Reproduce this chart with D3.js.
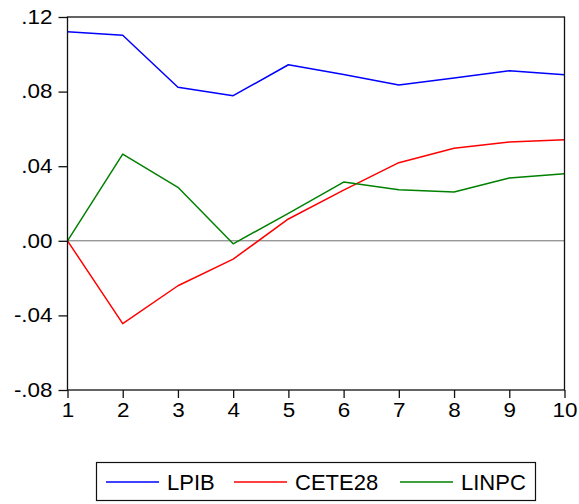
<!DOCTYPE html>
<html lang="en">
<head>
    <meta charset="UTF-8">
    <title>LPIB CETE28 LINPC</title>
    <script src="https://d3js.org/d3.v7.min.js"></script>
    <style>
        body {
            margin: 0;
            background: #ffffff;
            font-family: Arial, 'Liberation Sans', sans-serif;
        }
        svg { display: block; }
    </style>
</head>
<body>
    <div id="chart"></div>

    <script>
        const periods = [1, 2, 3, 4, 5, 6, 7, 8, 9, 10];
        const lpib   = [0.1121, 0.1102, 0.0823, 0.0778, 0.0944, 0.0892, 0.0835, 0.0873, 0.0912, 0.0891];
        const cete28 = [0.0000, -0.0444, -0.0241, -0.0098, 0.0117, 0.0272, 0.0419, 0.0496, 0.0530, 0.0542];
        const linpc  = [0.0000, 0.0465, 0.0287, -0.0016, 0.0147, 0.0315, 0.0274, 0.0262, 0.0337, 0.0360];
        const yTicks = [-0.08, -0.04, 0.00, 0.04, 0.08, 0.12];
        const yTickLabels = ['-.08', '-.04', '.00', '.04', '.08', '.12'];
        const seriesNames = ['LPIB', 'CETE28', 'LINPC'];
        const seriesColors = ['#0000ff', '#ff0000', '#008000'];

        const width = 579, height = 504;
        const plot = { left: 67.5, right: 564.5, top: 17, bottom: 390 };
        const stretch = 1.15; // tick labels are drawn a bit wide

        const svg = d3.select('#chart')
            .append('svg')
            .attr('width', width)
            .attr('height', height);

        const x = d3.scaleLinear().domain([1, 10]).range([plot.left, plot.right]);
        const y = d3.scaleLinear().domain([-0.08, 0.12]).range([plot.bottom, plot.top]);

        // zero line
        svg.append('line')
            .attr('x1', plot.left).attr('x2', plot.right)
            .attr('y1', y(0)).attr('y2', y(0))
            .attr('stroke', '#6e6e6e')
            .attr('stroke-width', 1);

        // series
        const line = d3.line()
            .x((d, i) => x(periods[i]))
            .y(d => y(d));

        [lpib, cete28, linpc].forEach((vals, k) => {
            svg.append('path')
                .datum(vals)
                .attr('d', line)
                .attr('fill', 'none')
                .attr('stroke', seriesColors[k])
                .attr('stroke-width', 1.5)
                .attr('stroke-linejoin', 'round');
        });

        // frame
        svg.append('rect')
            .attr('x', plot.left).attr('y', plot.top)
            .attr('width', plot.right - plot.left)
            .attr('height', plot.bottom - plot.top)
            .attr('fill', 'none')
            .attr('stroke', '#111')
            .attr('stroke-width', 1.3);

        // axes
        const yAxis = d3.axisLeft(y)
            .tickValues(yTicks)
            .tickFormat((d, i) => yTickLabels[i])
            .tickSize(9)
            .tickPadding(6);

        const xAxis = d3.axisBottom(x)
            .tickValues(periods)
            .tickFormat(d3.format('d'))
            .tickSize(8)
            .tickPadding(5);

        const gy = svg.append('g')
            .attr('transform', `translate(${plot.left},0)`)
            .call(yAxis);
        const gx = svg.append('g')
            .attr('transform', `translate(0,${plot.bottom})`)
            .call(xAxis);

        [gx, gy].forEach(g => {
            g.select('.domain').remove();
            g.selectAll('.tick line').attr('stroke', '#111').attr('stroke-width', 1.3);
            g.selectAll('.tick text')
                .attr('fill', '#000')
                .style('font-family', "Arial, 'Liberation Sans', sans-serif")
                .style('font-size', '19.5px')
                .each(function() {
                    const t = d3.select(this);
                    const tx = +t.attr('x') || 0;
                    t.attr('x', tx / stretch).attr('transform', `scale(${stretch},1)`);
                });
        });

        // legend
        const legend = svg.append('g');
        legend.append('rect')
            .attr('x', 96.5).attr('y', 462.5)
            .attr('width', 439).attr('height', 38)
            .attr('fill', 'none')
            .attr('stroke', '#111')
            .attr('stroke-width', 1.2);

        const legendX = [106, 234, 400];
        seriesNames.forEach((name, k) => {
            legend.append('line')
                .attr('x1', legendX[k]).attr('x2', legendX[k] + 53)
                .attr('y1', 482).attr('y2', 482)
                .attr('stroke', seriesColors[k])
                .attr('stroke-width', 1.5);
            legend.append('text')
                .attr('x', legendX[k] + 61)
                .attr('y', 489.5)
                .attr('fill', '#000')
                .style('font-size', '22px')
                .text(name);
        });
    </script>
</body>
</html>
